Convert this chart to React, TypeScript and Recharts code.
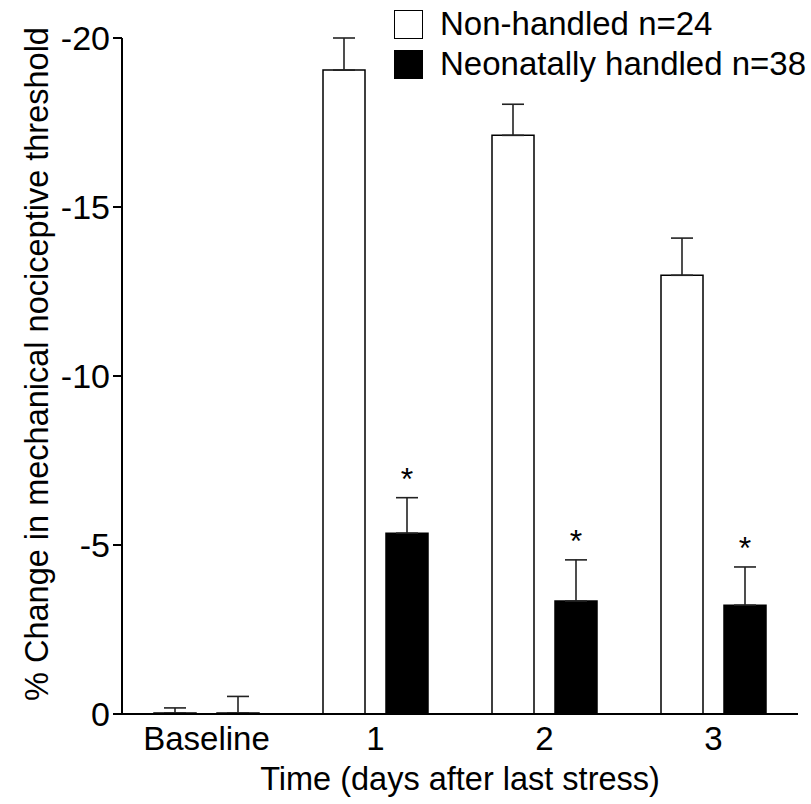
import { BarChart, Bar, XAxis, YAxis, ErrorBar, LabelList, Legend, Label } from "recharts";

const categories = ["Baseline", "1", "2", "3"];
const nonHandled = [-0.03, -19.05, -17.12, -12.98];
const nonHandledSem = [0.15, 0.95, 0.92, 1.1];
const handled = [-0.03, -5.35, -3.34, -3.22];
const handledSem = [0.49, 1.05, 1.22, 1.13];
const significant = [false, true, true, true];
const yTicks = [-20, -15, -10, -5, 0];

const data = categories.map((time, i) => ({
  time,
  nonHandled: nonHandled[i],
  nonHandledErr: [nonHandledSem[i], 0],
  handled: handled[i],
  handledErr: [handledSem[i], 0],
}));

const font = "'Liberation Sans', Arial, Helvetica, sans-serif";

const series = [
  { name: "Non-handled n=24", fill: "#fff" },
  { name: "Neonatally handled n=38", fill: "#000" },
];

function LegendBox() {
  return (
    <div style={{ fontFamily: font, fontSize: 33, color: "#000" }}>
      {series.map((s) => (
        <div key={s.name} style={{ display: "flex", alignItems: "center", height: 40, whiteSpace: "nowrap" }}>
          <span
            style={{
              display: "inline-block",
              width: 29,
              height: 29,
              boxSizing: "border-box",
              border: "1.5px solid #000",
              background: s.fill,
              marginRight: 17,
            }}
          />
          {s.name}
        </div>
      ))}
    </div>
  );
}

// asterisk above the error bar of the handled group
function Star(props: any) {
  const { x, y, width, height, index, value } = props;
  if (!significant[index] || !value) return null;
  const top = Math.min(y, y + height);
  const pxPerUnit = Math.abs(height) / Math.abs(value);
  const capY = top - handledSem[index] * pxPerUnit;
  return (
    <text x={x + width / 2} y={capY - 8} textAnchor="middle" fontSize={32} fontFamily={font} fill="#000">
      *
    </text>
  );
}

function YTitle(props: any) {
  const { viewBox } = props;
  const cy = viewBox.y + viewBox.height / 2 - 12;
  return (
    <text x={48} y={cy} transform={`rotate(-90 48 ${cy})`} textAnchor="middle" fontSize={32.5} fontFamily={font} fill="#000">
      % Change in mechanical nociceptive threshold
    </text>
  );
}

function XTitle(props: any) {
  const { viewBox } = props;
  return (
    <text x={viewBox.x + viewBox.width / 2} y={790} textAnchor="middle" fontSize={32.5} fontFamily={font} fill="#000">
      Time (days after last stress)
    </text>
  );
}

export default function App() {
  return (
    <div style={{ position: "absolute", left: 0, top: 0, background: "#fff" }}>
      <BarChart
        width={811}
        height={804}
        data={data}
        margin={{ top: 38, right: 13, bottom: 0, left: 0 }}
        barSize={42}
        barGap={21}
      >
        <XAxis
          dataKey="time"
          axisLine={{ stroke: "#000", strokeWidth: 2 }}
          tickLine={false}
          tickSize={0}
          tickMargin={13}
          height={90}
          tick={{ fill: "#000", fontSize: 33, fontFamily: font }}
        >
          <Label content={<XTitle />} />
        </XAxis>
        <YAxis
          reversed
          domain={[-20, 0]}
          ticks={yTicks}
          width={122}
          axisLine={{ stroke: "#000", strokeWidth: 2 }}
          tickLine={{ stroke: "#000", strokeWidth: 2 }}
          tickSize={9}
          tickMargin={3}
          tick={{ fill: "#000", fontSize: 34, fontFamily: font }}
        >
          <Label content={<YTitle />} />
        </YAxis>
        <Legend
          layout="vertical"
          align="center"
          verticalAlign="middle"
          content={<LegendBox />}
          wrapperStyle={{ top: 4, left: 394, width: "auto" }}
        />
        <Bar dataKey="nonHandled" name={series[0].name} fill="#fff" stroke="#000" strokeWidth={1.5} isAnimationActive={false}>
          <ErrorBar dataKey="nonHandledErr" direction="y" width={11} stroke="#222" strokeWidth={1.6} />
        </Bar>
        <Bar dataKey="handled" name={series[1].name} fill="#000" stroke="#000" strokeWidth={1.5} isAnimationActive={false}>
          <ErrorBar dataKey="handledErr" direction="y" width={11} stroke="#222" strokeWidth={1.6} />
          <LabelList dataKey="handled" content={<Star />} />
        </Bar>
      </BarChart>
    </div>
  );
}
